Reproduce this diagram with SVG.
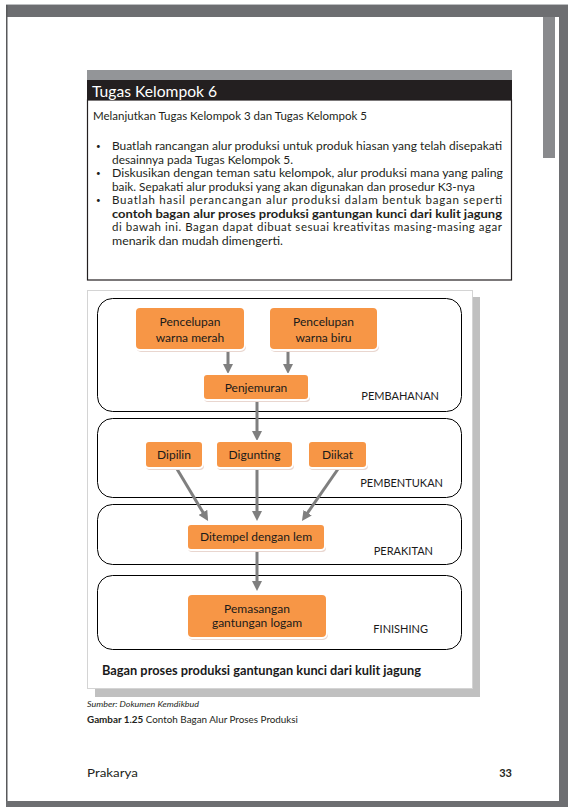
<svg xmlns="http://www.w3.org/2000/svg" width="568" height="807" viewBox="0 0 568 807">
<defs>
<marker id="ah" viewBox="0 0 10 10" refX="2" refY="5" markerWidth="10" markerHeight="10" markerUnits="userSpaceOnUse" orient="auto">
<path d="M0,0 L10,5 L0,10 z" fill="#7f7f7f"/>
</marker>
</defs>
<style>
.body{font-family:"Lato","Liberation Sans",sans-serif;font-size:11.5px;fill:#231f20}
.bul{font-family:"Lato","Liberation Sans",sans-serif;font-size:8px;fill:#231f20}
.stage{fill:none;stroke:#000;stroke-width:1}
.slabel{font-family:"Lato","Liberation Sans",sans-serif;font-size:11px;fill:#1a1a1a}
.box{fill:#f79646;stroke:#fff;stroke-width:2}
.boxsh{fill:#e9d6cf}
.btxt{font-family:"Lato","Liberation Sans",sans-serif;font-size:12px;fill:#1a1a1a;text-anchor:middle}
.conn{stroke:#7f7f7f;stroke-width:3;fill:none;marker-end:url(#ah)}
</style>
<rect width="568" height="807" fill="#fff"/>
<!-- page frame -->
<rect x="6" y="4" width="562" height="1" fill="#bcbec0"/>
<rect x="6" y="5" width="562" height="12" fill="#6d6e71"/>
<rect x="6" y="5" width="1.5" height="800" fill="#58595b"/>
<rect x="559" y="5" width="9" height="802" fill="#6d6e71"/>
<rect x="543" y="17" width="12" height="141" fill="#898a8d"/>
<rect x="6" y="801" width="562" height="6" fill="#6d6e71"/>

<!-- task box -->
<g id="task">
<rect x="87" y="70" width="425" height="10" fill="#939598"/>
<rect x="87" y="80" width="425" height="20" fill="#231f20"/>
<rect x="87.5" y="100" width="424" height="180" fill="#fff" stroke="#231f20" stroke-width="1.2"/>
<text x="92" y="97" font-family="Lato,Liberation Sans,sans-serif" font-size="16" fill="#fff" textLength="125" lengthAdjust="spacingAndGlyphs">Tugas Kelompok 6</text>
<text class="body" x="93" y="120" textLength="274" lengthAdjust="spacingAndGlyphs">Melanjutkan Tugas Kelompok 3 dan Tugas Kelompok 5</text>
<text class="bul" x="96" y="149">•</text>
<text class="body" x="112" y="150" textLength="390" lengthAdjust="spacingAndGlyphs">Buatlah rancangan alur produksi untuk produk hiasan yang telah disepakati</text>
<text class="body" x="112" y="164" textLength="181" lengthAdjust="spacingAndGlyphs">desainnya pada Tugas Kelompok 5.</text>
<text class="bul" x="96" y="176">•</text>
<text class="body" x="112" y="177" textLength="391" lengthAdjust="spacingAndGlyphs">Diskusikan dengan teman satu kelompok, alur produksi mana yang paling</text>
<text class="body" x="112" y="191" textLength="363" lengthAdjust="spacingAndGlyphs">baik. Sepakati alur produksi yang akan digunakan dan prosedur K3-nya</text>
<text class="bul" x="96" y="203">•</text>
<text class="body" x="112" y="204" textLength="390" lengthAdjust="spacing">Buatlah hasil perancangan alur produksi dalam bentuk bagan seperti</text>
<text class="body" x="112" y="217.5" font-weight="bold" textLength="390" lengthAdjust="spacingAndGlyphs">contoh bagan alur proses produksi gantungan kunci dari kulit jagung</text>
<text class="body" x="112" y="231" textLength="390" lengthAdjust="spacing">di bawah ini. Bagan dapat dibuat sesuai kreativitas masing-masing agar</text>
<text class="body" x="112" y="244.5" textLength="171" lengthAdjust="spacingAndGlyphs">menarik dan mudah dimengerti.</text>
</g>

<!-- figure -->
<g id="figure">
<rect x="95" y="297" width="385" height="400" fill="#c0c0c0"/>
<rect x="87.5" y="290.5" width="385" height="398" fill="#fff" stroke="#d4d4d4" stroke-width="1"/>
</g>

<g id="stage-pembahanan">
<rect class="stage" x="97.5" y="298.5" width="364" height="113" rx="15"/>
<text class="slabel" x="439" y="400" text-anchor="end">PEMBAHANAN</text>
</g>
<g id="stage-pembentukan">
<rect class="stage" x="97.5" y="418.5" width="364" height="79" rx="15"/>
<text class="slabel" x="443" y="487" text-anchor="end">PEMBENTUKAN</text>
</g>
<g id="stage-perakitan">
<rect class="stage" x="97.5" y="504.5" width="364" height="60" rx="15"/>
<text class="slabel" x="433" y="555" text-anchor="end">PERAKITAN</text>
</g>
<g id="stage-finishing">
<rect class="stage" x="97.5" y="575.5" width="364" height="74" rx="15"/>
<text class="slabel" x="428" y="633" text-anchor="end">FINISHING</text>
</g>

<g id="connectors">
<path class="conn" d="M228,351 L228,366"/>
<path class="conn" d="M288,351 L288,366"/>
<path class="conn" d="M257,401 L257,433"/>
<path class="conn" d="M177,469 L204,514.1"/>
<path class="conn" d="M257,469 L257,513"/>
<path class="conn" d="M338,469 L306.5,514.4"/>
<path class="conn" d="M257,551 L257,583"/>
</g>

<g id="n-merah">
<rect class="boxsh" x="136" y="309" width="110" height="43" rx="5"/>
<rect class="box" x="135" y="307" width="110" height="43" rx="5"/>
<text class="btxt" x="190" y="326">Pencelupan</text>
<text class="btxt" x="190" y="342">warna merah</text>
</g>
<g id="n-biru">
<rect class="boxsh" x="270" y="309" width="109" height="43" rx="5"/>
<rect class="box" x="269" y="307" width="109" height="43" rx="5"/>
<text class="btxt" x="323.5" y="326">Pencelupan</text>
<text class="btxt" x="323.5" y="342">warna biru</text>
</g>
<g id="n-penjemuran">
<rect class="boxsh" x="204" y="376" width="106" height="26" rx="4"/>
<rect class="box" x="203" y="374" width="106" height="26" rx="4"/>
<text class="btxt" x="256" y="392">Penjemuran</text>
</g>
<g id="n-dipilin">
<rect class="boxsh" x="146" y="443" width="58" height="27" rx="4"/>
<rect class="box" x="145" y="441" width="58" height="27" rx="4"/>
<text class="btxt" x="174" y="459">Dipilin</text>
</g>
<g id="n-digunting">
<rect class="boxsh" x="217" y="443" width="77" height="27" rx="4"/>
<rect class="box" x="216" y="441" width="77" height="27" rx="4"/>
<text class="btxt" x="254.5" y="459">Digunting</text>
</g>
<g id="n-diikat">
<rect class="boxsh" x="309" y="443" width="59" height="27" rx="4"/>
<rect class="box" x="308" y="441" width="59" height="27" rx="4"/>
<text class="btxt" x="337.5" y="459">Diikat</text>
</g>
<g id="n-ditempel">
<rect class="boxsh" x="188" y="526" width="138" height="26" rx="4"/>
<rect class="box" x="187" y="524" width="138" height="26" rx="4"/>
<text class="btxt" x="256" y="541">Ditempel dengan lem</text>
</g>
<g id="n-pemasangan">
<rect class="boxsh" x="188" y="596" width="140" height="44" rx="5"/>
<rect class="box" x="187" y="594" width="140" height="44" rx="5"/>
<text class="btxt" x="257" y="613">Pemasangan</text>
<text class="btxt" x="257" y="627">gantungan logam</text>
</g>

<g id="caption">
<text x="102" y="675" font-family="Lato,Liberation Sans,sans-serif" font-size="13" font-weight="bold" fill="#1a1a1a" textLength="319" lengthAdjust="spacingAndGlyphs">Bagan proses produksi gantungan kunci dari kulit jagung</text>
<text x="87" y="707" font-family="Lato,Liberation Sans,sans-serif" font-size="8" font-style="italic" fill="#231f20" textLength="112" lengthAdjust="spacingAndGlyphs">Sumber: Dokumen Kemdikbud</text>
<text x="87" y="723" font-family="Lato,Liberation Sans,sans-serif" font-size="9" fill="#231f20" textLength="211" lengthAdjust="spacingAndGlyphs"><tspan font-weight="bold">Gambar 1.25</tspan> Contoh Bagan Alur Proses Produksi</text>
</g>

<g id="footer">
<text x="87" y="777" font-family="Lato,Liberation Sans,sans-serif" font-size="11" fill="#231f20" textLength="51" lengthAdjust="spacingAndGlyphs">Prakarya</text>
<text x="512" y="777" font-family="Lato,Liberation Sans,sans-serif" font-size="11" font-weight="bold" fill="#231f20" text-anchor="end">33</text>
</g>
</svg>
